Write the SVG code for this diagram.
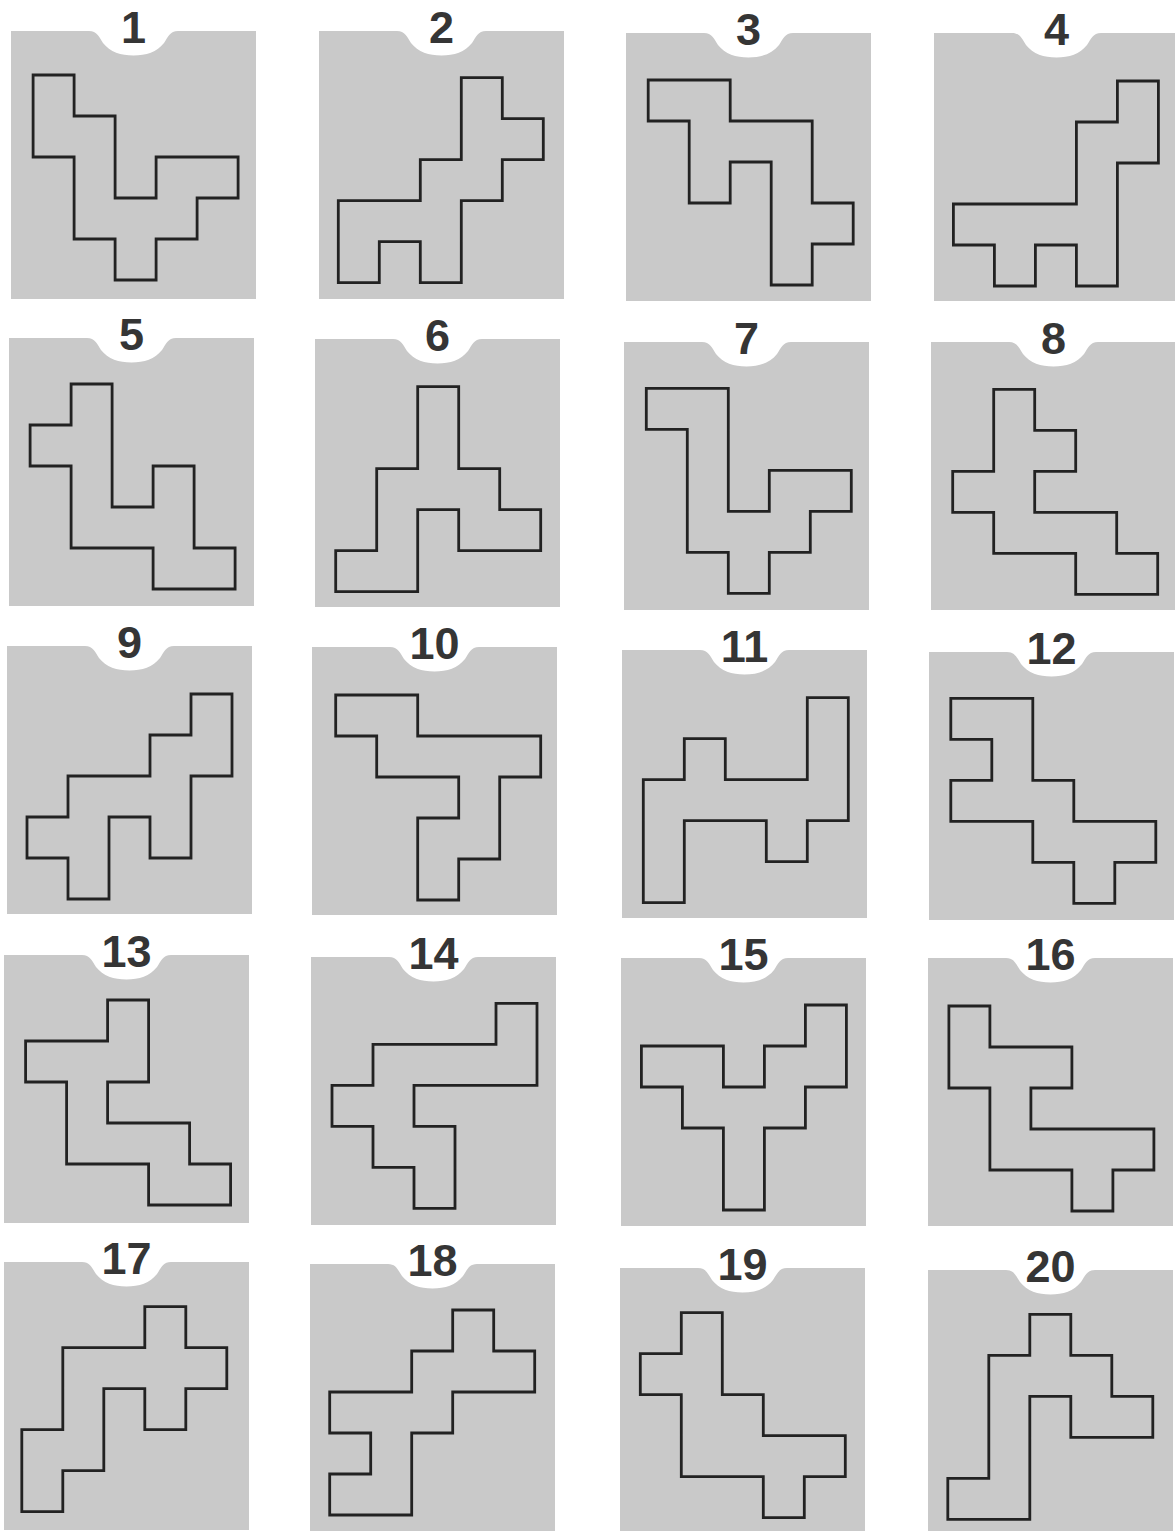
<svg xmlns="http://www.w3.org/2000/svg" xmlns:xlink="http://www.w3.org/1999/xlink" width="1175" height="1531" viewBox="0 0 1175 1531">
<style>
.num{font-family:"Liberation Sans",Arial,sans-serif;font-weight:bold;font-size:45px;fill:#353535;text-anchor:middle}
.card{fill:#c9c9c9}
.piece{fill:none;stroke:#222222;stroke-width:2.8;stroke-linejoin:miter}
</style>
<defs>
<path id="card" class="card" d="M0,0 H78 C86,0 88,6 92,12 C99,21 110,24.5 122.5,24.5 C135,24.5 146,21 153,12 C157,6 159,0 167,0 H245 V268 H0 Z"/>
</defs>
<rect width="1175" height="1531" fill="#ffffff"/>
<g id="panel-1"><use xlink:href="#card" x="11" y="31"/><text class="num" x="133.5" y="43">1</text><path class="piece" transform="translate(33.1,75)" d="M0,0 H41 V41 H82 V123 H123 V82 H205 V123 H164 V164 H123 V205 H82 V164 H41 V82 H0 Z"/></g>
<g id="panel-2"><use xlink:href="#card" x="319" y="31"/><text class="num" x="441.5" y="43">2</text><path class="piece" transform="translate(338.3,77.7)" d="M123,0 H164 V41 H205 V82 H164 V123 H123 V205 H82 V164 H41 V205 H0 V123 H82 V82 H123 Z"/></g>
<g id="panel-3"><use xlink:href="#card" x="626" y="33"/><text class="num" x="748.5" y="45">3</text><path class="piece" transform="translate(648.2,80)" d="M0,0 H82 V41 H164 V123 H205 V164 H164 V205 H123 V82 H82 V123 H41 V41 H0 Z"/></g>
<g id="panel-4"><use xlink:href="#card" x="934" y="33"/><text class="num" x="1056.5" y="45">4</text><path class="piece" transform="translate(953.4,81)" d="M164,0 H205 V82 H164 V205 H123 V164 H82 V205 H41 V164 H0 V123 H123 V41 H164 Z"/></g>
<g id="panel-5"><use xlink:href="#card" x="9" y="338"/><text class="num" x="131.5" y="350">5</text><path class="piece" transform="translate(30.1,384)" d="M41,0 H82 V123 H123 V82 H164 V164 H205 V205 H123 V164 H41 V82 H0 V41 H41 Z"/></g>
<g id="panel-6"><use xlink:href="#card" x="315" y="339"/><text class="num" x="437.5" y="351">6</text><path class="piece" transform="translate(335.7,386.7)" d="M82,0 H123 V82 H164 V123 H205 V164 H123 V123 H82 V205 H0 V164 H41 V82 H82 Z"/></g>
<g id="panel-7"><use xlink:href="#card" x="624" y="342"/><text class="num" x="746.5" y="354">7</text><path class="piece" transform="translate(646.3,388.3)" d="M0,0 H82 V123 H123 V82 H205 V123 H164 V164 H123 V205 H82 V164 H41 V41 H0 Z"/></g>
<g id="panel-8"><use xlink:href="#card" x="931" y="342"/><text class="num" x="1053.5" y="354">8</text><path class="piece" transform="translate(952.7,389.3)" d="M41,0 H82 V41 H123 V82 H82 V123 H164 V164 H205 V205 H123 V164 H41 V123 H0 V82 H41 Z"/></g>
<g id="panel-9"><use xlink:href="#card" x="7" y="646"/><text class="num" x="129.5" y="658">9</text><path class="piece" transform="translate(27,694)" d="M164,0 H205 V82 H164 V164 H123 V123 H82 V205 H41 V164 H0 V123 H41 V82 H123 V41 H164 Z"/></g>
<g id="panel-10"><use xlink:href="#card" x="312" y="647"/><text class="num" x="434.5" y="659">10</text><path class="piece" transform="translate(335.7,695)" d="M0,0 H82 V41 H205 V82 H164 V164 H123 V205 H82 V123 H123 V82 H41 V41 H0 Z"/></g>
<g id="panel-11"><use xlink:href="#card" x="622" y="650"/><text class="num" x="744.5" y="662">11</text><path class="piece" transform="translate(643.3,697.7)" d="M164,0 H205 V123 H164 V164 H123 V123 H41 V205 H0 V82 H41 V41 H82 V82 H164 Z"/></g>
<g id="panel-12"><use xlink:href="#card" x="929" y="652"/><text class="num" x="1051.5" y="664">12</text><path class="piece" transform="translate(950.8,698.3)" d="M0,0 H82 V82 H123 V123 H205 V164 H164 V205 H123 V164 H82 V123 H0 V82 H41 V41 H0 Z"/></g>
<g id="panel-13"><use xlink:href="#card" x="4" y="955"/><text class="num" x="126.5" y="967">13</text><path class="piece" transform="translate(25.6,1000)" d="M82,0 H123 V82 H82 V123 H164 V164 H205 V205 H123 V164 H41 V82 H0 V41 H82 Z"/></g>
<g id="panel-14"><use xlink:href="#card" x="311" y="957"/><text class="num" x="433.5" y="969">14</text><path class="piece" transform="translate(332,1003.3)" d="M164,0 H205 V82 H82 V123 H123 V205 H82 V164 H41 V123 H0 V82 H41 V41 H164 Z"/></g>
<g id="panel-15"><use xlink:href="#card" x="621" y="958"/><text class="num" x="743.5" y="970">15</text><path class="piece" transform="translate(641.4,1005)" d="M164,0 H205 V82 H164 V123 H123 V205 H82 V123 H41 V82 H0 V41 H82 V82 H123 V41 H164 Z"/></g>
<g id="panel-16"><use xlink:href="#card" x="928" y="958"/><text class="num" x="1050.5" y="970">16</text><path class="piece" transform="translate(948.9,1006)" d="M0,0 H41 V41 H123 V82 H82 V123 H205 V164 H164 V205 H123 V164 H41 V82 H0 Z"/></g>
<g id="panel-17"><use xlink:href="#card" x="4" y="1262"/><text class="num" x="126.5" y="1274">17</text><path class="piece" transform="translate(21.8,1306.7)" d="M123,0 H164 V41 H205 V82 H164 V123 H123 V82 H82 V164 H41 V205 H0 V123 H41 V41 H123 Z"/></g>
<g id="panel-18"><use xlink:href="#card" x="310" y="1264"/><text class="num" x="432.5" y="1276">18</text><path class="piece" transform="translate(329.7,1310)" d="M123,0 H164 V41 H205 V82 H123 V123 H82 V205 H0 V164 H41 V123 H0 V82 H82 V41 H123 Z"/></g>
<g id="panel-19"><use xlink:href="#card" x="620" y="1268"/><text class="num" x="742.5" y="1280">19</text><path class="piece" transform="translate(640.3,1312.7)" d="M41,0 H82 V82 H123 V123 H205 V164 H164 V205 H123 V164 H41 V82 H0 V41 H41 Z"/></g>
<g id="panel-20"><use xlink:href="#card" x="928" y="1270"/><text class="num" x="1050.5" y="1282">20</text><path class="piece" transform="translate(947.8,1314.3)" d="M82,0 H123 V41 H164 V82 H205 V123 H123 V82 H82 V205 H0 V164 H41 V41 H82 Z"/></g>
</svg>
